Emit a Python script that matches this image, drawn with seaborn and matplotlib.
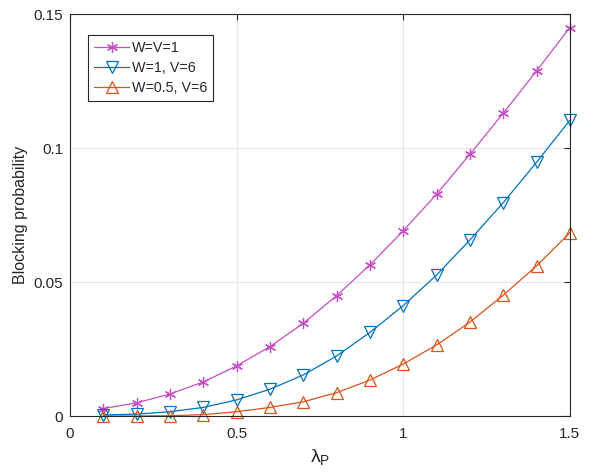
import numpy as np
import pandas as pd
import matplotlib
matplotlib.use("Agg")
import matplotlib.pyplot as plt
from matplotlib.ticker import FormatStrFormatter
import seaborn as sns

# data
lam = [0.1, 0.2, 0.3, 0.4, 0.5, 0.6, 0.7, 0.8, 0.9, 1.0, 1.1, 1.2, 1.3, 1.4, 1.5]
wv1 = [0.0028, 0.0049, 0.0082, 0.0127, 0.0187, 0.0259, 0.0346, 0.0449, 0.0564,
       0.0691, 0.0828, 0.0977, 0.1130, 0.1288, 0.1450]
w1v6 = [0.0004, 0.0007, 0.0016, 0.0032, 0.0060, 0.0100, 0.0153, 0.0224, 0.0312,
        0.0412, 0.0526, 0.0657, 0.0796, 0.0947, 0.1104]
w05v6 = [0.0000, 0.0000, 0.0001, 0.0005, 0.0016, 0.0032, 0.0053, 0.0087, 0.0134,
         0.0194, 0.0265, 0.0350, 0.0451, 0.0560, 0.0684]

labels = ['W=V=1', 'W=1, V=6', 'W=0.5, V=6']
colors = ['#C64EC4', '#0072BD', '#D95319']
markers = [(6, 2, 0), 'v', '^']

df = pd.DataFrame({'lam': lam * 3,
                   'pb': wv1 + w1v6 + w05v6,
                   'case': [labels[0]] * 15 + [labels[1]] * 15 + [labels[2]] * 15})

sns.set_style('white')
plt.rcParams['font.family'] = ['Liberation Sans', 'DejaVu Sans']
plt.rcParams['mathtext.fontset'] = 'custom'
plt.rcParams['mathtext.rm'] = 'Liberation Sans'
plt.rcParams['mathtext.it'] = 'Liberation Sans'

fig = plt.figure(figsize=(6.03, 4.73), dpi=100)
ax = fig.add_axes([0.116, 0.1205, 0.829, 0.8495])

for lab, c, m in zip(labels, colors, markers):
    sub = df[df['case'] == lab]
    sns.lineplot(data=sub, x='lam', y='pb', ax=ax, color=c, marker=m,
                 markersize=8, markerfacecolor='none', markeredgecolor=c,
                 markeredgewidth=0.9, linewidth=0.9, label=lab, clip_on=False)

ax.set_xlim(0, 1.5)
ax.set_ylim(0, 0.15)
ax.set_xticks([0, 0.5, 1, 1.5])
ax.set_yticks([0, 0.05, 0.1, 0.15])
ax.xaxis.set_major_formatter(FormatStrFormatter('%g'))
ax.yaxis.set_major_formatter(FormatStrFormatter('%g'))
ax.grid(True, color='#e6e6e6', linewidth=0.8)
ax.tick_params(direction='in', top=True, right=True, length=4.5, width=0.8,
               color='#262626', labelsize=11, labelcolor='#262626')
ax.tick_params(axis='x', pad=8)
ax.tick_params(axis='y', pad=5)
for s in ax.spines.values():
    s.set_color('#262626')
    s.set_linewidth(0.8)
    s.set_zorder(5)

ax.set_xlabel(r'$\lambda_{\mathrm{P}}$', fontsize=14, color='#262626', labelpad=4)
ax.set_ylabel('Blocking probability', fontsize=11.5, color='#262626')

leg = ax.legend(loc='upper left', bbox_to_anchor=(0.036, 0.947), fancybox=False,
                edgecolor='#262626', framealpha=1, fontsize=10.3,
                handlelength=2.5, handletextpad=0.15, borderpad=0.4,
                labelspacing=0.42, borderaxespad=0)
leg.get_frame().set_linewidth(0.8)

fig.savefig('out.png', dpi=100)
